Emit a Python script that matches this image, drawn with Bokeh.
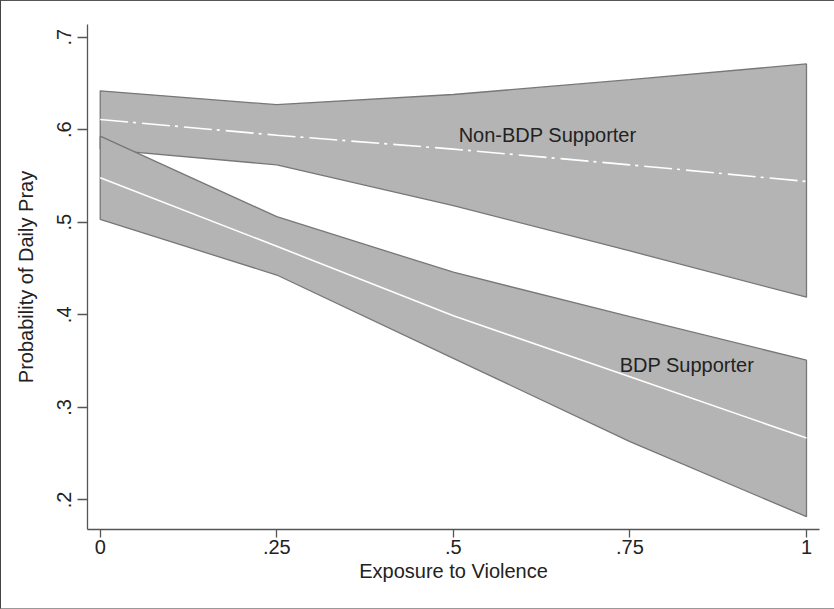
from bokeh.plotting import figure
from bokeh.models import Range1d, FixedTicker
from bokeh.core.properties import value
from bokeh.embed import file_html
from bokeh.resources import INLINE

# ---- data ----
exposure = [0.0, 0.25, 0.5, 0.75, 1.0]

nonbdp_mean = [0.611, 0.594, 0.579, 0.562, 0.544]
nonbdp_lo = [0.579, 0.562, 0.518, 0.469, 0.419]
nonbdp_hi = [0.642, 0.627, 0.638, 0.654, 0.671]

bdp_mean = [0.548, 0.474, 0.399, 0.333, 0.267]
bdp_lo = [0.503, 0.443, 0.353, 0.263, 0.182]
bdp_hi = [0.593, 0.506, 0.446, 0.398, 0.351]

x_ticks = [0, 0.25, 0.5, 0.75, 1]
x_tick_labels = ["0", ".25", ".5", ".75", "1"]
y_ticks = [0.2, 0.3, 0.4, 0.5, 0.6, 0.7]
y_tick_labels = [".2", ".3", ".4", ".5", ".6", ".7"]

series_labels = ["Non-BDP Supporter", "BDP Supporter"]
label_x = [0.5075, 0.7355]
label_y = [0.5943, 0.3463]

FONT = "Liberation Sans"
TXT = "#222222"
AX = "#555555"
BAND_FILL = "#b4b4b4"
BAND_LINE = "#777777"

p = figure(
    width=834, height=609,
    output_backend="svg", toolbar_location=None,
    x_range=Range1d(-0.018, 1.0184), y_range=Range1d(0.1681, 0.7136),
    min_border_left=86, min_border_top=23, min_border_right=16, min_border_bottom=81,
)
p.styles = {
    "border-top": "1px solid #555555",
    "border-left": "1px solid #444444",
    "border-bottom": "1px solid #999999",
    "box-sizing": "border-box",
}
p.grid.visible = False
p.outline_line_color = None
p.background_fill_color = "white"
p.border_fill_color = "white"

# bands
p.patch(exposure + exposure[::-1], nonbdp_hi + nonbdp_lo[::-1],
        fill_color=BAND_FILL, line_color=BAND_LINE, line_width=1.3)
p.patch(exposure + exposure[::-1], bdp_hi + bdp_lo[::-1],
        fill_color=BAND_FILL, line_color=BAND_LINE, line_width=1.3)

# mean lines
p.line(exposure, bdp_mean, line_color="white", line_width=1.6)
p.line(exposure, nonbdp_mean, line_color="white", line_width=1.6,
       line_dash="28 5 3 6")

# in-plot labels
p.text(x=label_x, y=label_y, text=series_labels,
       text_font=value(FONT), text_font_size="20px", text_color=TXT,
       text_align="left", text_baseline="middle")

# axes
xa = p.xaxis[0]
xa.ticker = FixedTicker(ticks=x_ticks)
xa.major_label_overrides = {t: l for t, l in zip(x_ticks, x_tick_labels)}
xa.axis_label = "Exposure to Violence"

ya = p.yaxis[0]
ya.ticker = FixedTicker(ticks=y_ticks)
ya.major_label_overrides = {t: l for t, l in zip(y_ticks, y_tick_labels)}
ya.axis_label = "Probability of Daily Pray"
ya.major_label_orientation = "vertical"

for ax in (xa, ya):
    ax.axis_line_color = AX
    ax.axis_line_width = 1.3
    ax.major_tick_line_color = AX
    ax.major_tick_line_width = 1.3
    ax.minor_tick_line_color = None
    ax.major_tick_in = 0
    ax.major_label_text_font = FONT
    ax.major_label_text_font_size = "20px"
    ax.major_label_text_color = TXT
    ax.axis_label_text_font = FONT
    ax.axis_label_text_font_size = "20px"
    ax.axis_label_text_color = TXT
    ax.axis_label_text_font_style = "normal"

xa.major_tick_out = 8
xa.major_label_standoff = 2
xa.axis_label_standoff = 3
ya.major_tick_out = 10
ya.major_label_standoff = 6
ya.axis_label_standoff = 18

open("out.html", "w").write(file_html(p, INLINE))
